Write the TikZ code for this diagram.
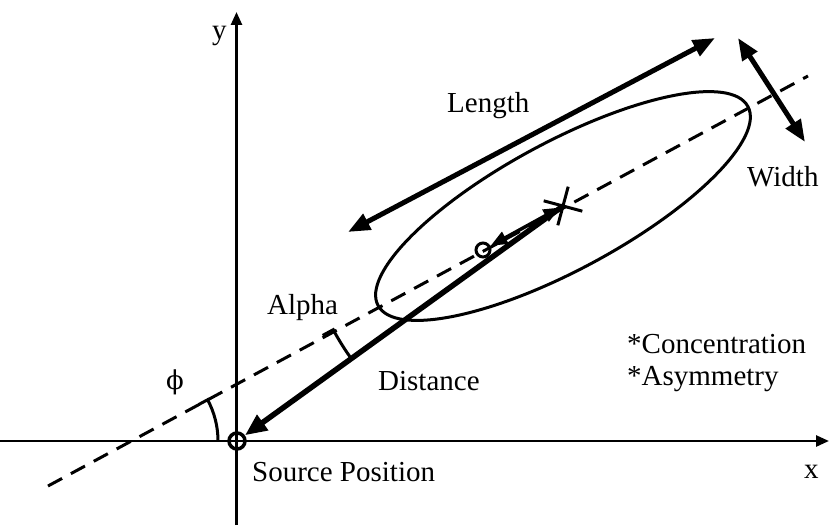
\documentclass[tikz,border=0pt]{standalone}
\usepackage{fontspec}
\setmainfont{Liberation Serif}
\newfontfamily\dvs{DejaVu Serif}
\usetikzlibrary{arrows.meta}
\begin{document}
\begin{tikzpicture}[x=1pt,y=1pt,
  lbl/.style={inner sep=0pt, anchor=base west, font=\fontsize{29}{34}\selectfont},
  axisline/.style={line width=2.6pt, -{Triangle[length=13pt,width=11pt]}},
  dashline/.style={line width=3pt, dash pattern=on 16pt off 10pt},
  bigarrow/.style={line width=5pt, {Triangle[length=22pt,width=17pt]}-{Triangle[length=22pt,width=17pt]}},
  distarrow/.style={line width=5.5pt, -{Triangle[length=22pt,width=18pt]}},
  smallarrow/.style={line width=3.5pt, {Triangle[length=17pt,width=13pt]}-{Triangle[length=17pt,width=13pt]}},
  thinline/.style={line width=3pt},
  ring/.style={circle, draw, inner sep=0pt, minimum size=13pt}
]
\useasboundingbox (0,0) rectangle (829,525);
% coordinates
\coordinate (xa) at (0,84);
\coordinate (xb) at (829,84);
\coordinate (ya) at (236.5,0);
\coordinate (yb) at (236.5,513);
\coordinate (D1) at (48,39);
\coordinate (D2) at (808,449);
\coordinate (C) at (563,319);
\coordinate (P) at (131,84);
\coordinate (L1) at (348,293);
\coordinate (L2) at (715,487);
\coordinate (W1) at (738,487);
\coordinate (W2) at (805,383);
% axes
\draw[axisline] (xa) -- (xb);
\draw[axisline] (ya) -- (yb);
% major axis (dashed)
\draw[dashline] (D1) -- (D2);
% ellipse
\draw[line width=3pt, rotate around={28.3:(C)}] (C) ellipse (210 and 64);
% nodes
\node[ring, line width=3.5pt, minimum size=16pt] (O) at (237,84) {};
\node[ring, line width=3pt, minimum size=14pt] (S) at (483,275) {};
% centroid cross
\draw[line width=3pt] (C) ++(-15:20) -- ++(165:40);
\draw[line width=3pt] (C) ++(75:20) -- ++(255:40);
% distance
\draw[distarrow] (C) -- (O);
\draw[smallarrow, shorten >=3pt] (S) -- (C);
% length & width
\draw[bigarrow] (L1) -- (L2);
\draw[bigarrow] (W1) -- (W2);
% phi arc
\draw[thinline] (P) ++(0:87) arc[start angle=0, end angle=28.3, radius=87] -- ++(208.3:10);
% alpha arc
\draw[thinline] (C) ++(215.8:261) arc[start angle=215.8, end angle=208.3, radius=261] -- ++(208.3:12);
% labels
\node[lbl] (ly) at (212,485) {y};
\node[lbl] (lx) at (804,47) {x};
\node[lbl] (lsrc) at (252,44) {Source Position};
\node[lbl] (lconc) at (627,172) {*Concentration};
\node[lbl] (lasym) at (627,140) {*Asymmetry};
\node[lbl] (lalpha) at (267,210) {Alpha};
\node[lbl] (ldist) at (378,135) {Distance};
\node[lbl] (llen) at (447,412) {Length};
\node[lbl] (lwid) at (747,338) {Width};
\node[inner sep=0pt, font=\fontsize{26}{30}\selectfont\dvs] (lphi) at (175,143) {ϕ};
\end{tikzpicture}
\end{document}
